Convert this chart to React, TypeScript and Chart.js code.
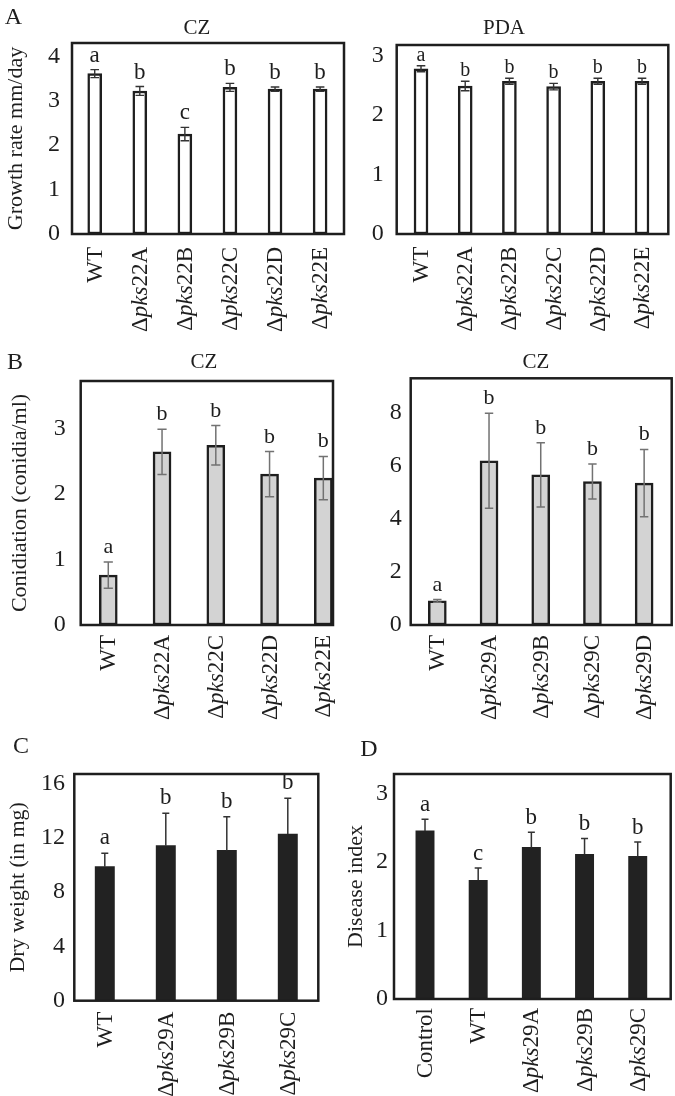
import React, { useEffect, useRef } from "react";
import { Chart, registerables } from "chart.js";

Chart.register(...registerables);

const SERIF = '"Liberation Serif", "Times New Roman", serif';
const INK = "#1e1e1e";

// ---------- Panel A : growth rate (mm/day) ----------
const growthLabels = ["WT", "Δpks22A", "Δpks22B", "Δpks22C", "Δpks22D", "Δpks22E"];
const growthCZ = [3.61, 3.22, 2.25, 3.3, 3.26, 3.26];
const growthCZErr = [0.09, 0.1, 0.15, 0.09, 0.05, 0.05];
const growthCZLetters = ["a", "b", "c", "b", "b", "b"];
const growthCZTicks = [0, 1, 2, 3, 4];

const growthPDA = [2.78, 2.49, 2.57, 2.48, 2.57, 2.57];
const growthPDAErr = [0.05, 0.08, 0.05, 0.055, 0.05, 0.05];
const growthPDALetters = ["a", "b", "b", "b", "b", "b"];
const growthPDATicks = [0, 1, 2, 3];

// ---------- Panel B : conidiation ----------
const conid22Labels = ["WT", "Δpks22A", "Δpks22C", "Δpks22D", "Δpks22E"];
const conid22 = [0.76, 2.64, 2.74, 2.3, 2.24];
const conid22Err = [0.2, 0.345, 0.3, 0.345, 0.33];
const conid22Letters = ["a", "b", "b", "b", "b"];
const conid22Ticks = [0, 1, 2, 3];

const conid29Labels = ["WT", "Δpks29A", "Δpks29B", "Δpks29C", "Δpks29D"];
const conid29 = [0.91, 6.19, 5.66, 5.41, 5.35];
const conid29Err = [0.05, 1.79, 1.21, 0.66, 1.27];
const conid29Letters = ["a", "b", "b", "b", "b"];
const conid29Ticks = [0, 2, 4, 6, 8];

// ---------- Panel C : dry weight ----------
const dryLabels = ["WT", "Δpks29A", "Δpks29B", "Δpks29C"];
const dryWeight = [9.86, 11.41, 11.06, 12.26];
const dryErr = [0.98, 2.38, 2.48, 2.63];
const dryLetters = ["a", "b", "b", "b"];
const dryTicks = [0, 4, 8, 12, 16];

// ---------- Panel D : disease index ----------
const diseaseLabels = ["Control", "WT", "Δpks29A", "Δpks29B", "Δpks29C"];
const diseaseIndex = [2.45, 1.73, 2.21, 2.11, 2.08];
const diseaseErr = [0.17, 0.18, 0.22, 0.23, 0.21];
const diseaseLetters = ["a", "c", "b", "b", "b"];
const diseaseTicks = [0, 1, 2, 3];

type Spec = {
  id: string;
  labels: string[];
  values: number[];
  errors: number[];
  letters: string[];
  ticks: number[];
  yMax: number;
  xMin: number;
  xMax: number;
  yTitle?: string;
  canvas: { left: number; top: number; w: number; h: number };
  pad: { left: number; top: number; right: number; bottom: number };
  yWidth: number;
  tickPad: number;
  titlePad: number;
  barThickness: number;
  fill: string;
  borderWidth: number;
  errColor: string;
  errWidth: number;
  capHalf: number;
  upperOnly: boolean;
  letterFont: number;
  letterGap: number;
  labelGap: number;
};

const openBar = { fill: "#ffffff", borderWidth: 2.5, errColor: "#333333", errWidth: 1.4, capHalf: 4.3, upperOnly: false };
const greyBar = { fill: "#d3d3d3", borderWidth: 2.5, errColor: "#727272", errWidth: 1.5, capHalf: 4.6, upperOnly: false };
const blackBar = { fill: "#222222", borderWidth: 0, errColor: "#333333", errWidth: 1.5, capHalf: 3.5, upperOnly: true };

const specs: Spec[] = [
  {
    id: "aCZ", labels: growthLabels, values: growthCZ, errors: growthCZErr, letters: growthCZLetters, ticks: growthCZTicks,
    yMax: 4.3, xMin: -0.504, xMax: 5.53, yTitle: "Growth rate mm/day",
    canvas: { left: 0, top: 0, w: 350, h: 340 }, pad: { left: 0, top: 43, right: 6, bottom: 106 },
    yWidth: 72, tickPad: 12, titlePad: 3.3, barThickness: 14, ...openBar,
    letterFont: 23, letterGap: 8, labelGap: 13,
  },
  {
    id: "aPDA", labels: growthLabels, values: growthPDA, errors: growthPDAErr, letters: growthPDALetters, ticks: growthPDATicks,
    yMax: 3.18, xMin: -0.55, xMax: 5.595,
    canvas: { left: 350, top: 0, w: 325, h: 340 }, pad: { left: 0, top: 45, right: 6.7, bottom: 106 },
    yWidth: 46.7, tickPad: 13, titlePad: 0, barThickness: 14, ...openBar,
    letterFont: 20, letterGap: 5, labelGap: 12.7,
  },
  {
    id: "b22", labels: conid22Labels, values: conid22, errors: conid22Err, letters: conid22Letters, ticks: conid22Ticks,
    yMax: 3.72, xMin: -0.513, xMax: 4.18, yTitle: "Conidiation (conidia/ml)",
    canvas: { left: 0, top: 340, w: 345, h: 385 }, pad: { left: 0, top: 41, right: 12, bottom: 100 },
    yWidth: 80.7, tickPad: 15, titlePad: 7.5, barThickness: 18, ...greyBar,
    letterFont: 22, letterGap: 9, labelGap: 10,
  },
  {
    id: "b29", labels: conid29Labels, values: conid29, errors: conid29Err, letters: conid29Letters, ticks: conid29Ticks,
    yMax: 9.3, xMin: -0.515, xMax: 4.533,
    canvas: { left: 345, top: 340, w: 330, h: 385 }, pad: { left: 0, top: 38.3, right: 3.3, bottom: 100 },
    yWidth: 65.7, tickPad: 9, titlePad: 0, barThickness: 18, ...greyBar, capHalf: 4.2,
    letterFont: 22, letterGap: 9, labelGap: 10,
  },
  {
    id: "c", labels: dryLabels, values: dryWeight, errors: dryErr, letters: dryLetters, ticks: dryTicks,
    yMax: 16.68, xMin: -0.5, xMax: 3.5, yTitle: "Dry weight (in mg)",
    canvas: { left: 0, top: 725, w: 335, h: 371 }, pad: { left: 0, top: 49, right: 16.7, bottom: 95.3 },
    yWidth: 74.3, tickPad: 9.3, titlePad: 5, barThickness: 19.3, ...blackBar,
    letterFont: 23, letterGap: 9, labelGap: 11,
  },
  {
    id: "d", labels: diseaseLabels, values: diseaseIndex, errors: diseaseErr, letters: diseaseLetters, ticks: diseaseTicks,
    yMax: 3.28, xMin: -0.583, xMax: 4.62, yTitle: "Disease index",
    canvas: { left: 335, top: 725, w: 340, h: 371 }, pad: { left: 0, top: 49, right: 4.3, bottom: 97 },
    yWidth: 59, tickPad: 6, titlePad: 8.3, barThickness: 18.3, ...blackBar,
    letterFont: 23, letterGap: 8, labelGap: 9,
  },
];

const textMarks = [
  { text: "A", x: 13.3, y: 15.8, size: 24 },
  { text: "B", x: 15, y: 360.5, size: 24 },
  { text: "C", x: 21, y: 745, size: 24 },
  { text: "D", x: 369, y: 747.5, size: 24 },
  { text: "CZ", x: 197, y: 26.7, size: 21 },
  { text: "PDA", x: 504, y: 26.7, size: 21 },
  { text: "CZ", x: 204, y: 361, size: 21 },
  { text: "CZ", x: 536, y: 361, size: 21 },
];

function splitLabel(label: string): { t: string; italic: boolean }[] {
  const m = /^(Δ)(pks)(.*)$/.exec(label);
  if (!m) return [{ t: label, italic: false }];
  return [
    { t: m[1], italic: false },
    { t: m[2], italic: true },
    { t: m[3], italic: false },
  ];
}

function makeDecor(spec: Spec) {
  return {
    id: "panelDecor_" + spec.id,
    afterDraw(chart: any) {
      const { ctx, chartArea: a, scales } = chart;
      const xs = scales.x;
      const ys = scales.y;
      ctx.save();
      // frame
      ctx.strokeStyle = INK;
      ctx.lineWidth = 2.5;
      ctx.strokeRect(a.left, a.top, a.right - a.left, a.bottom - a.top);

      // error bars
      ctx.strokeStyle = spec.errColor;
      ctx.lineWidth = spec.errWidth;
      spec.values.forEach((v, i) => {
        const e = spec.errors[i];
        const px = xs.getPixelForValue(i);
        const hi = ys.getPixelForValue(v + e);
        const lo = spec.upperOnly ? ys.getPixelForValue(v) : ys.getPixelForValue(v - e);
        ctx.beginPath();
        ctx.moveTo(px, hi);
        ctx.lineTo(px, lo);
        ctx.moveTo(px - spec.capHalf, hi);
        ctx.lineTo(px + spec.capHalf, hi);
        if (!spec.upperOnly) {
          ctx.moveTo(px - spec.capHalf, lo);
          ctx.lineTo(px + spec.capHalf, lo);
        }
        ctx.stroke();
      });

      // significance letters
      ctx.fillStyle = INK;
      ctx.font = `${spec.letterFont}px ${SERIF}`;
      ctx.textAlign = "center";
      ctx.textBaseline = "alphabetic";
      spec.letters.forEach((l, i) => {
        const px = xs.getPixelForValue(i);
        const hi = ys.getPixelForValue(spec.values[i] + spec.errors[i]);
        ctx.fillText(l, px, hi - spec.letterGap);
      });

      // rotated category labels with italic gene names
      const size = 23;
      spec.labels.forEach((label, i) => {
        const px = xs.getPixelForValue(i) + 1;
        const parts = splitLabel(label);
        const fonts = parts.map((p) => `${p.italic ? "italic " : ""}${size}px ${SERIF}`);
        let total = 0;
        const widths = parts.map((p, k) => {
          ctx.font = fonts[k];
          const w = ctx.measureText(p.t).width;
          total += w;
          return w;
        });
        ctx.save();
        ctx.translate(px, a.bottom + spec.labelGap);
        ctx.rotate(-Math.PI / 2);
        ctx.textAlign = "left";
        ctx.textBaseline = "middle";
        ctx.fillStyle = INK;
        let cursor = -total;
        parts.forEach((p, k) => {
          ctx.font = fonts[k];
          ctx.fillText(p.t, cursor, 0);
          cursor += widths[k];
        });
        ctx.restore();
      });
      ctx.restore();
    },
  };
}

function Panel({ spec }: { spec: Spec }) {
  const ref = useRef<HTMLCanvasElement>(null);
  useEffect(() => {
    if (!ref.current) return;
    const chart = new Chart(ref.current, {
      type: "bar",
      data: {
        datasets: [
          {
            label: spec.id,
            data: spec.values.map((v, i) => ({ x: i, y: v })),
            backgroundColor: spec.fill,
            borderColor: INK,
            borderWidth: spec.borderWidth,
            borderSkipped: false,
            barThickness: spec.barThickness,
          } as any,
        ],
      },
      options: {
        responsive: false,
        maintainAspectRatio: false,
        animation: false,
        devicePixelRatio: 1,
        layout: { padding: spec.pad },
        plugins: {
          legend: { display: false },
          tooltip: { enabled: false },
          title: { display: false },
        },
        scales: {
          x: {
            type: "linear",
            min: spec.xMin,
            max: spec.xMax,
            offset: false,
            display: false,
          },
          y: {
            type: "linear",
            min: 0,
            max: spec.yMax,
            afterBuildTicks: (s: any) => {
              s.ticks = spec.ticks.map((v) => ({ value: v }));
            },
            afterFit: (s: any) => {
              s.width = spec.yWidth;
              s.paddingTop = 0;
              s.paddingBottom = 0;
            },
            grid: { display: false, drawTicks: false },
            border: { display: false },
            ticks: {
              padding: spec.tickPad,
              color: INK,
              font: { family: SERIF, size: 24 },
              callback: (v: any) => String(v),
            },
            title: spec.yTitle
              ? {
                  display: true,
                  text: spec.yTitle,
                  color: INK,
                  font: { family: SERIF, size: 22 },
                  padding: { top: spec.titlePad, bottom: 0 },
                }
              : { display: false },
          },
        } as any,
      },
      plugins: [makeDecor(spec)],
    } as any);
    return () => chart.destroy();
  }, [spec]);
  const c = spec.canvas;
  return (
    <canvas
      ref={ref}
      width={c.w}
      height={c.h}
      style={{ position: "absolute", left: c.left, top: c.top, width: c.w, height: c.h }}
    />
  );
}

export default function App() {
  return (
    <div
      style={{
        position: "absolute",
        left: 0,
        top: 0,
        width: 675,
        height: 1096,
        background: "#ffffff",
        overflow: "hidden",
      }}
    >
      {specs.map((s) => (
        <Panel key={s.id} spec={s} />
      ))}
      {textMarks.map((t, i) => (
        <div
          key={i}
          style={{
            position: "absolute",
            left: t.x,
            top: t.y,
            transform: "translate(-50%, -50%)",
            fontFamily: SERIF,
            fontSize: t.size,
            lineHeight: 1,
            color: INK,
            whiteSpace: "nowrap",
          }}
        >
          {t.text}
        </div>
      ))}
    </div>
  );
}
